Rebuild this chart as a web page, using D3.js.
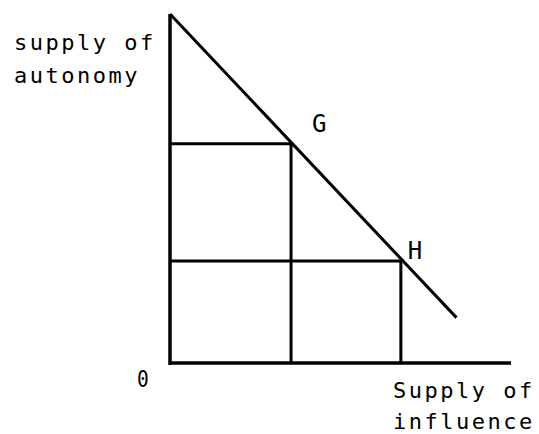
<!DOCTYPE html>
<html><head><meta charset="utf-8">
<script src="https://cdn.jsdelivr.net/npm/d3@7"></script>
<style>body{margin:0;background:#fff}svg{display:block}text{font-family:"DejaVu Sans Mono",monospace;fill:#000}</style>
</head><body>
<script>
// Data (arbitrary units)
const supplyLine = [{x:0,y:100},{x:84,y:13}];
const points = [{name:"G",x:35.5,y:62.8},{name:"H",x:67.7,y:29.2}];
const axisExtent = {x:100, y:100};
const labels = {
  yLabel:["supply of","autonomy"],
  xLabel:["Supply of","influence"],
  origin:"0"
};

const W=539,H=434;
const svg=d3.select("body").append("svg").attr("width",W).attr("height",H);
const x=d3.scaleLinear().domain([0,100]).range([170,511]);
const y=d3.scaleLinear().domain([0,100]).range([363,14]);

// axes
svg.append("line").attr("x1",x(0)).attr("y1",y(0)+2).attr("x2",x(0)).attr("y2",y(axisExtent.y))
  .attr("stroke","#000").attr("stroke-width",3.5);
svg.append("line").attr("x1",x(0)).attr("y1",y(0)).attr("x2",x(axisExtent.x)).attr("y2",y(0))
  .attr("stroke","#000").attr("stroke-width",3.5);

// supply line
svg.append("path").datum(supplyLine)
  .attr("d",d3.line().x(d=>x(d.x)).y(d=>y(d.y)))
  .attr("stroke","#000").attr("stroke-width",3).attr("fill","none");

// drop lines
points.forEach(p=>{
  svg.append("line").attr("x1",x(0)).attr("y1",y(p.y)).attr("x2",x(p.x)).attr("y2",y(p.y))
    .attr("stroke","#000").attr("stroke-width",3);
  svg.append("line").attr("x1",x(p.x)).attr("y1",y(p.y)).attr("x2",x(p.x)).attr("y2",y(0))
    .attr("stroke","#000").attr("stroke-width",3);
});

// point labels
svg.selectAll("text.pt").data(points).enter().append("text").attr("class","pt")
  .attr("x",d=>x(d.x)+(d.name==="G"?21:7)).attr("y",d=>y(d.y)-(d.name==="G"?12:2))
  .attr("font-family","DejaVu Sans").attr("font-size",24).text(d=>d.name);

const ls=2.5, fs=22;
labels.yLabel.forEach((t,i)=>{
  svg.append("text").attr("x",14).attr("y",50+i*33).attr("font-size",fs)
    .attr("letter-spacing",ls).text(t);
});
labels.xLabel.forEach((t,i)=>{
  svg.append("text").attr("x",393).attr("y",398+i*31).attr("font-size",fs)
    .attr("letter-spacing",ls).text(t);
});
svg.append("text").attr("x",137).attr("y",387).attr("font-family","DejaVu Sans")
  .attr("font-size",23).attr("transform","translate(137,387) scale(0.85,1) translate(-137,-387)")
  .text(labels.origin);
</script>
</body></html>
